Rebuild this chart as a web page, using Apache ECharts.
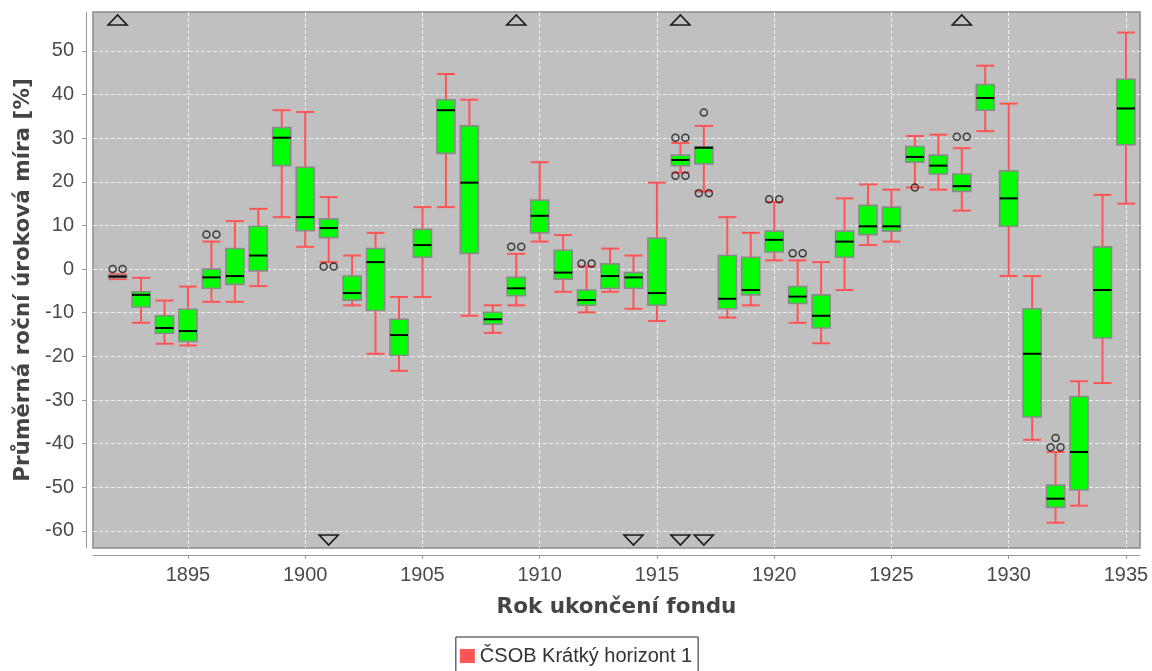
<!DOCTYPE html>
<html>
<head>
<meta charset="utf-8">
<script src="https://cdn.jsdelivr.net/npm/echarts@6/dist/echarts.min.js"></script>
<style>
  html, body { margin: 0; padding: 0; background: #ffffff; }
  #chart { width: 1152px; height: 671px; }
</style>
</head>
<body>
<div id="chart"></div>
<script>
// Year in which each fund period ends
const years = [
  1892, 1893, 1894, 1895, 1896, 1897, 1898, 1899, 1900, 1901, 1902,
  1903, 1904, 1905, 1906, 1907, 1908, 1909, 1910, 1911, 1912, 1913,
  1914, 1915, 1916, 1917, 1918, 1919, 1920, 1921, 1922, 1923, 1924,
  1925, 1926, 1927, 1928, 1929, 1930, 1931, 1932, 1933, 1934, 1935
];
// Box-and-whisker statistics of the average annual rate [%]
const whiskerLow = [
  -2.3, -12.3, -17.1, -17.5, -7.5, -7.5, -3.9, 11.9, 5.1, 1.6, -8.3,
  -19.4, -23.3, -6.4, 14.2, -10.7, -14.6, -8.3, 6.3, -5.2, -9.9, -5.2,
  -9.1, -11.9, 22.1, 17.8, -11.1, -8.3, 2.0, -12.3, -17.0, -4.8, 5.5,
  6.3, 18.7, 18.2, 13.4, 31.6, -1.6, -39.1, -58.1, -54.2, -26.1, 15.0
];
const quartile1 = [
  -2.0, -8.7, -14.7, -16.6, -4.4, -3.5, -0.4, 23.7, 8.8, 7.2, -7.1,
  -9.5, -19.8, 2.7, 26.5, 3.6, -12.6, -6.1, 8.3, -2.3, -8.3, -4.4,
  -4.4, -8.3, 23.7, 24.1, -9.1, -5.9, 3.9, -7.9, -13.5, 2.7, 7.9,
  8.7, 24.5, 21.8, 17.8, 36.4, 9.8, -33.9, -54.6, -50.6, -15.8, 28.5
];
const medians = [
  -1.7, -5.9, -13.5, -14.2, -1.9, -1.6, 3.1, 30.1, 11.9, 9.4, -5.5,
  1.6, -15.1, 5.5, 36.4, 19.8, -11.5, -4.4, 12.2, -0.8, -7.1, -1.6,
  -1.9, -5.5, 25.0, 27.8, -6.8, -4.8, 6.7, -6.3, -10.7, 6.3, 9.8,
  9.8, 25.7, 23.7, 19.0, 39.2, 16.2, -19.4, -52.6, -41.9, -4.8, 36.8
];
const quartile3 = [
  -1.4, -5.2, -10.7, -9.2, 0.0, 4.7, 9.8, 32.4, 23.3, 11.5, -1.6,
  4.7, -11.5, 9.1, 38.8, 32.8, -9.9, -1.9, 15.8, 4.3, -4.8, 1.2,
  -0.8, 7.1, 26.1, 28.0, 3.1, 2.7, 8.7, -4.0, -5.9, 8.7, 14.6,
  14.2, 28.1, 26.1, 21.8, 42.3, 22.5, -9.1, -49.5, -29.2, 5.1, 43.5
];
const whiskerHigh = [
  -1.2, -2.0, -7.2, -4.0, 6.3, 11.0, 13.8, 36.4, 36.0, 16.5, 3.1,
  8.3, -6.4, 14.2, 44.7, 38.8, -8.3, 3.5, 24.5, 7.8, 0.6, 4.7,
  3.1, 19.8, 28.9, 32.8, 11.9, 8.3, 15.4, 2.0, 1.6, 16.2, 19.4,
  18.2, 30.5, 30.8, 27.7, 46.6, 37.9, -1.6, -41.9, -25.7, 17.0, 54.2
];
// Outliers (year, value)
const outlierYears = [
  1892, 1892, 1896, 1896, 1901, 1901, 1909, 1909, 1912, 1912,
  1916, 1916, 1916, 1916, 1917, 1917, 1917, 1920, 1920, 1921, 1921,
  1926, 1928, 1928, 1932, 1932, 1932
];
const outlierValues = [
  0.0, 0.0, 7.9, 7.9, 0.6, 0.6, 5.1, 5.1, 1.3, 1.3,
  30.1, 30.1, 21.4, 21.4, 35.9, 17.4, 17.4, 16.0, 16.0, 3.6, 3.6,
  18.7, 30.3, 30.3, -38.7, -40.8, -40.8
];
// Years with far-out values above / below the visible range
const farHighYears = [1892, 1909, 1916, 1928];
const farLowYears = [1901, 1914, 1916, 1917];
// Axis ticks
const xTicks = [1895, 1900, 1905, 1910, 1915, 1920, 1925, 1930, 1935];
const yTicks = [-60, -50, -40, -30, -20, -10, 0, 10, 20, 30, 40, 50];

const seriesName = 'ČSOB Krátký horizont 1';
const whiskerColor = '#ff5555';

const boxData = years.map((y, i) => [y, whiskerLow[i], quartile1[i], medians[i], quartile3[i], whiskerHigh[i]]);

// Outliers sharing a value are spread side by side
const outlierData = outlierYears.map((y, i) => {
  const v = outlierValues[i];
  const same = [];
  outlierYears.forEach((yy, j) => { if (yy === y && outlierValues[j] === v) same.push(j); });
  const k = same.indexOf(i);
  const off = (k - (same.length - 1) / 2) * 10;
  return { value: [y, v], symbolOffset: [off, 0] };
});

const farData = farHighYears.map(y => [y, 1]).concat(farLowYears.map(y => [y, -1]));

function renderBox(params, api) {
  const x = api.value(0);
  const pLow = api.coord([x, api.value(1)]);
  const pQ1 = api.coord([x, api.value(2)]);
  const pMed = api.coord([x, api.value(3)]);
  const pQ3 = api.coord([x, api.value(4)]);
  const pHigh = api.coord([x, api.value(5)]);
  const w = api.size([0.77, 0])[0];
  const h = w / 2;
  const cx = pMed[0];
  return {
    type: 'group',
    children: [
      { type: 'line', shape: { x1: cx, y1: pHigh[1], x2: cx, y2: pLow[1] },
        style: { stroke: whiskerColor, lineWidth: 2 } },
      { type: 'line', shape: { x1: cx - h, y1: pHigh[1], x2: cx + h, y2: pHigh[1] },
        style: { stroke: whiskerColor, lineWidth: 2 } },
      { type: 'line', shape: { x1: cx - h, y1: pLow[1], x2: cx + h, y2: pLow[1] },
        style: { stroke: whiskerColor, lineWidth: 2 } },
      { type: 'rect', shape: { x: cx - h, y: pQ3[1], width: w, height: pQ1[1] - pQ3[1] },
        style: { fill: '#00ff00', stroke: '#8a8a8a', lineWidth: 1.6 } },
      { type: 'line', shape: { x1: cx - h, y1: pMed[1], x2: cx + h, y2: pMed[1] },
        style: { stroke: '#000000', lineWidth: 2 } }
    ]
  };
}

// Far-out flags sit at the top / bottom edge of the plot
function renderFar(params, api) {
  const cs = params.coordSys;
  const px = api.coord([api.value(0), 0])[0];
  const up = api.value(1) > 0;
  const half = 9.5;
  let pts;
  if (up) {
    pts = [[px - half, cs.y + 13], [px + half, cs.y + 13], [px, cs.y + 3]];
  } else {
    const b = cs.y + cs.height;
    pts = [[px - half, b - 13], [px + half, b - 13], [px, b - 3]];
  }
  return {
    type: 'polygon',
    shape: { points: pts },
    style: { fill: 'none', stroke: '#1a1a1a', lineWidth: 1.6 }
  };
}

const gridLine = { show: true, lineStyle: { color: 'rgba(255,255,255,0.75)', width: 1, type: [4, 2] } };
const tickFont = { fontFamily: 'Liberation Sans', fontSize: 20, color: '#4a4a4a' };
const titleFont = { fontFamily: 'DejaVu Sans', fontWeight: 'bold', fontSize: 21.5, color: '#444444' };

const chart = echarts.init(document.getElementById('chart'), null, { renderer: 'canvas' });
chart.setOption({
  animation: false,
  color: [whiskerColor],
  backgroundColor: '#ffffff',
  grid: {
    left: 93, right: 12, top: 12, bottom: 123,
    show: true, backgroundColor: '#c0c0c0', borderColor: '#8a8a8a', borderWidth: 1.5
  },
  legend: {
    data: [{ name: seriesName, icon: 'rect' }],
    left: 'center', top: 637,
    borderColor: '#222222', borderWidth: 1,
    padding: [9, 6, 12, 4],
    itemWidth: 15, itemHeight: 14,
    textStyle: { fontFamily: 'Liberation Sans', fontSize: 20, color: '#333333' }
  },
  xAxis: {
    type: 'value', min: 1890.95, max: 1935.6, offset: 7,
    name: 'Rok ukončení fondu', nameLocation: 'middle', nameGap: 41,
    nameTextStyle: titleFont,
    axisLine: { show: true, onZero: false, lineStyle: { color: '#999999', width: 1 } },
    axisTick: { show: true, customValues: xTicks, length: 4, lineStyle: { color: '#999999' } },
    axisLabel: Object.assign({ customValues: xTicks, margin: 10, formatter: v => String(v) }, tickFont),
    splitLine: gridLine
  },
  yAxis: {
    type: 'value', min: -63.9, max: 58.9, offset: 7,
    name: 'Průměrná roční úroková míra [%]', nameLocation: 'middle', nameGap: 52,
    nameTextStyle: titleFont,
    axisLine: { show: true, onZero: false, lineStyle: { color: '#999999', width: 1 } },
    axisTick: { show: true, customValues: yTicks, length: 4, lineStyle: { color: '#999999' } },
    axisLabel: Object.assign({ customValues: yTicks, margin: 12, formatter: v => String(v) }, tickFont),
    splitLine: gridLine
  },
  series: [
    {
      name: seriesName,
      type: 'custom',
      renderItem: renderBox,
      itemStyle: { color: whiskerColor },
      encode: { x: 0, y: [1, 2, 3, 4, 5] },
      data: boxData,
      clip: true,
      z: 2
    },
    {
      name: 'outliers',
      type: 'scatter',
      symbol: 'circle',
      symbolSize: 7,
      itemStyle: { color: 'rgba(0,0,0,0)', borderColor: '#1a1a1a', borderWidth: 1.5 },
      data: outlierData,
      z: 3
    },
    {
      name: 'far',
      type: 'custom',
      renderItem: renderFar,
      encode: { x: 0, y: 1 },
      data: farData,
      z: 3
    }
  ]
});
</script>
</body>
</html>
